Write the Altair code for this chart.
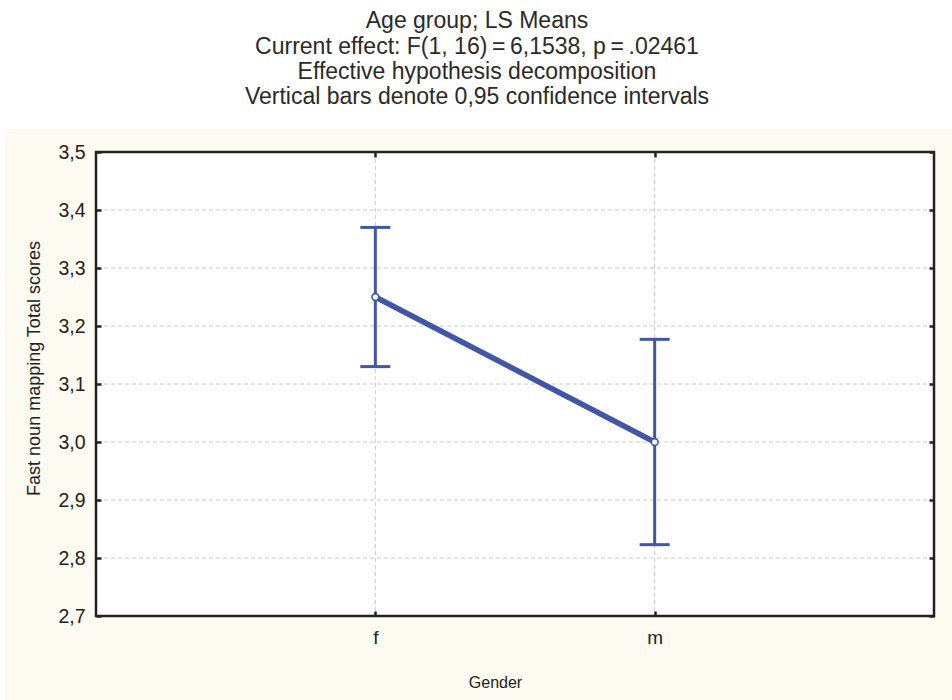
import altair as alt
import pandas as pd

# LS means of the fast noun mapping score by gender, with 95% confidence limits
genders = ["f", "m"]
ls_means = [3.25, 3.00]
ci_lower = [3.13, 2.823]
ci_upper = [3.37, 3.177]
y_ticks = [2.7, 2.8, 2.9, 3.0, 3.1, 3.2, 3.3, 3.4, 3.5]

title_lines = [
    "Age group; LS Means",
    "Current effect: F(1, 16)\u2009=\u20096,1538, p\u2009=\u2009.02461",
    "Effective hypothesis decomposition",
    "Vertical bars denote 0,95 confidence intervals",
]

W, H = 838, 464
FONT = "Liberation Sans"
INK = "#222222"
BLUE = "#4156a5"
CREAM = "#fdfaf2"
GRID = "#c8c8c8"

means_df = pd.DataFrame({"Gender": genders, "mean": ls_means, "lo": ci_lower, "hi": ci_upper})
grid_df = pd.DataFrame({"v": y_ticks[1:-1]})
gender_df = pd.DataFrame({"Gender": genders})

x_scale = alt.Scale(type="point", domain=genders, padding=1)
y_scale = alt.Scale(domain=[2.7, 3.5], nice=False, zero=False)

comma_labels = "replace(format(datum.value, '.1f'), '.', ',')"

# inward ticks: axis pulled 5px into the frame, ticks pointing back to the edge
tick_style = dict(offset=-5, tickSize=5, tickWidth=2.5, tickColor=INK, domain=False, grid=False, zindex=1)

left_axis = alt.Axis(orient="left", values=y_ticks, labelExpr=comma_labels,
                     labelFont=FONT, labelFontSize=19.5, labelColor=INK, labelPadding=11,
                     titleFont=FONT, titleFontSize=18, titleFontWeight="normal",
                     titleColor=INK, titlePadding=14, titleY=216, **tick_style)
right_axis = alt.Axis(orient="right", values=y_ticks, labels=False, **tick_style)
bottom_axis = alt.Axis(orient="bottom", labelFont=FONT, labelFontSize=19, labelColor=INK,
                       labelPadding=12, labelAngle=0,
                       titleFont=FONT, titleFontSize=16, titleFontWeight="normal",
                       titleColor=INK, titlePadding=27, titleX=399, **tick_style)
top_axis = alt.Axis(orient="top", labels=False, **tick_style)

one_row = alt.Data(values=[{}])

backdrop = alt.Chart(one_row).mark_rect(color=CREAM).encode(
    x=alt.value(-91), x2=alt.value(W + 18), y=alt.value(-23), y2=alt.value(H + 84)
)
panel = alt.Chart(one_row).mark_rect(color="white").encode(
    x=alt.value(0), x2=alt.value(W), y=alt.value(0), y2=alt.value(H)
)
frame = alt.Chart(one_row).mark_rect(fillOpacity=0, stroke=INK, strokeWidth=2.5).encode(
    x=alt.value(0), x2=alt.value(W), y=alt.value(0), y2=alt.value(H)
)

grid_h = alt.Chart(grid_df).mark_rule(color=GRID, strokeWidth=1, strokeDash=[4, 3]).encode(
    y=alt.Y("v:Q", scale=y_scale, axis=left_axis, title="Fast noun mapping Total scores")
)
grid_v = alt.Chart(gender_df).mark_rule(color=GRID, strokeWidth=1, strokeDash=[4, 3]).encode(
    x=alt.X("Gender:N", scale=x_scale, axis=bottom_axis, title="Gender")
)

x_plain = alt.X("Gender:N", scale=x_scale, axis=None)

err = alt.Chart(means_df).mark_rule(color=BLUE, strokeWidth=3).encode(
    x=x_plain, y=alt.Y("lo:Q", scale=y_scale, axis=None), y2="hi:Q"
)
cap_lo = alt.Chart(means_df).mark_rule(color=BLUE, strokeWidth=3, xOffset=-15, x2Offset=15).encode(
    x=x_plain, x2="Gender:N", y=alt.Y("lo:Q", scale=y_scale, axis=None)
)
cap_hi = alt.Chart(means_df).mark_rule(color=BLUE, strokeWidth=3, xOffset=-15, x2Offset=15).encode(
    x=x_plain, x2="Gender:N", y=alt.Y("hi:Q", scale=y_scale, axis=None)
)
line = alt.Chart(means_df).mark_line(color=BLUE, strokeWidth=5.5).encode(
    x=alt.X("Gender:N", scale=x_scale, axis=top_axis, title=None),
    y=alt.Y("mean:Q", scale=y_scale, axis=right_axis, title=None),
)
points = alt.Chart(means_df).mark_point(
    shape="circle", fill="white", fillOpacity=1, stroke=BLUE, strokeWidth=1.6, size=45, opacity=1
).encode(x=x_plain, y=alt.Y("mean:Q", scale=y_scale, axis=None))

chart = (
    alt.layer(backdrop, panel, grid_h, grid_v, err, cap_lo, cap_hi, line, points, frame)
    .resolve_axis(x="independent", y="independent")
    .properties(
        width=W,
        height=H,
        autosize=alt.AutoSizeParams(type="none"),
        padding={"left": 96, "top": 152, "right": 18, "bottom": 84},
        title=alt.TitleParams(
            text=title_lines, font=FONT, fontSize=23, fontWeight="normal", color="#2a2a2a",
            lineHeight=25.2, anchor="middle", offset=20, dx=-38,
        ),
    )
    .configure(background="white")
    .configure_view(stroke=None)
)

chart.save("out.html", embed_options={"renderer": "svg", "actions": False})
